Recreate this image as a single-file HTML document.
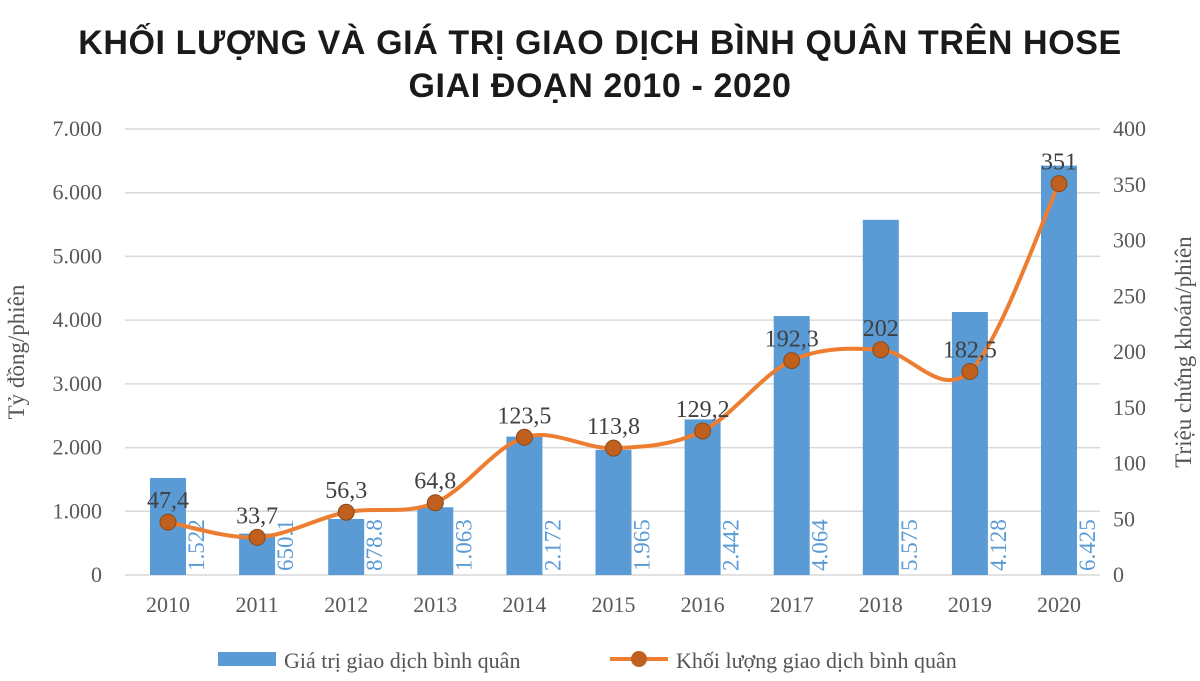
<!DOCTYPE html>
<html><head><meta charset="utf-8"><style>
body{margin:0;background:#fff;width:1200px;height:676px;overflow:hidden}
svg text{font-family:"Liberation Serif",serif}
</style></head><body>
<svg id="c" width="1200" height="676">
<text x="600" y="54" text-anchor="middle" style="font-family:'Liberation Sans',sans-serif;font-weight:bold;font-size:34px;letter-spacing:0.6px" fill="#1a1a1a">KHỐI LƯỢNG VÀ GIÁ TRỊ GIAO DỊCH BÌNH QUÂN TRÊN HOSE</text>
<text x="600" y="97" text-anchor="middle" style="font-family:'Liberation Sans',sans-serif;font-weight:bold;font-size:34px;letter-spacing:0.6px" fill="#1a1a1a">GIAI ĐOẠN 2010 - 2020</text>
<text transform="translate(24,352) rotate(-90)" text-anchor="middle" font-size="23" fill="#555">Tỷ đồng/phiên</text>
<text transform="translate(1191,352) rotate(-90)" text-anchor="middle" font-size="23" fill="#555">Triệu chứng khoán/phiên</text>
<g id="g"></g>
<rect x="218" y="652" width="58" height="14" fill="#5b9bd5"/>
<text x="284" y="668" font-size="22" fill="#555">Giá trị giao dịch bình quân</text>
<line x1="610" y1="659" x2="668" y2="659" stroke="#ed7d31" stroke-width="4"/>
<circle cx="639" cy="659" r="8" fill="#c0601f"/>
<text x="676" y="668" font-size="22" fill="#555">Khối lượng giao dịch bình quân</text>
</svg>
<script>
const years=["2010","2011","2012","2013","2014","2015","2016","2017","2018","2019","2020"];
const valueSeries=[1522,650.1,878.8,1063,2172,1965,2442,4064,5575,4128,6425];
const valueLabels=["1.522","650.1","878.8","1.063","2.172","1.965","2.442","4.064","5.575","4.128","6.425"];
const volumeSeries=[47.4,33.7,56.3,64.8,123.5,113.8,129.2,192.3,202,182.5,351];
const volumeLabels=["47,4","33,7","56,3","64,8","123,5","113,8","129,2","192,3","202","182,5","351"];
const leftTicks=[0,1000,2000,3000,4000,5000,6000,7000];
const leftTickLabels=["0","1.000","2.000","3.000","4.000","5.000","6.000","7.000"];
const rightTicks=[0,50,100,150,200,250,300,350,400];
const NS="http://www.w3.org/2000/svg",g=document.getElementById('g');
const y0=575,yTop=129;
const yL=v=>y0-(v/7000)*(y0-yTop);
const yR=v=>y0-(v/400)*(y0-yTop);
const xC=i=>168+i*89.1;
function mk(t,a){const e=document.createElementNS(NS,t);for(const k in a)e.setAttribute(k,a[k]);g.appendChild(e);return e;}
leftTicks.forEach((t,i)=>{
 const l=mk('line',{x1:125,x2:1100,y1:yL(t),y2:yL(t),stroke:'#d9d9d9','stroke-width':1.5});
 
 
 const tx=mk('text',{x:102,y:yL(t)+7,'text-anchor':'end','font-size':22,fill:'#595959'});tx.textContent=leftTickLabels[i];
 
 
});
rightTicks.forEach(t=>{
 const tx=mk('text',{x:1113,y:yR(t)+7,'font-size':22,fill:'#595959'});tx.textContent=t;
 
 
});
years.forEach((yr,i)=>{
 const x=xC(i);
 const r=mk('rect',{x:x-18,y:yL(valueSeries[i]),width:36,height:y0-yL(valueSeries[i]),fill:'#5b9bd5'});
 
 
 const vl=mk('text',{transform:`translate(${x+36},${y0-4}) rotate(-90)`,'font-size':23,fill:'#5b9bd5'});vl.textContent=valueLabels[i];
 
 
 const xl=mk('text',{x:x,y:612,'text-anchor':'middle','font-size':22,fill:'#595959'});xl.textContent=yr;
 
 
});
const pts=volumeSeries.map((v,i)=>[xC(i),yR(v)]);
let d=`M${pts[0][0]},${pts[0][1]}`;
for(let i=0;i<pts.length-1;i++){
 const p0=pts[Math.max(0,i-1)],p1=pts[i],p2=pts[i+1],p3=pts[Math.min(pts.length-1,i+2)];
 const c1=[p1[0]+(p2[0]-p0[0])/6,p1[1]+(p2[1]-p0[1])/6],c2=[p2[0]-(p3[0]-p1[0])/6,p2[1]-(p3[1]-p1[1])/6];
 d+=` C${c1[0]},${c1[1]} ${c2[0]},${c2[1]} ${p2[0]},${p2[1]}`;
}
const path=mk('path',{d:d,fill:'none',stroke:'#ed7d31','stroke-width':4});


pts.forEach((p,i)=>{
 const c=mk('circle',{cx:p[0],cy:p[1],r:8,fill:'#c0601f',stroke:'#8a4a1a','stroke-width':1});
 
 
 const t=mk('text',{x:p[0],y:p[1]-14,'text-anchor':'middle','font-size':24,fill:'#404040'});t.textContent=volumeLabels[i];
 
 
});
</script>
</body></html>
